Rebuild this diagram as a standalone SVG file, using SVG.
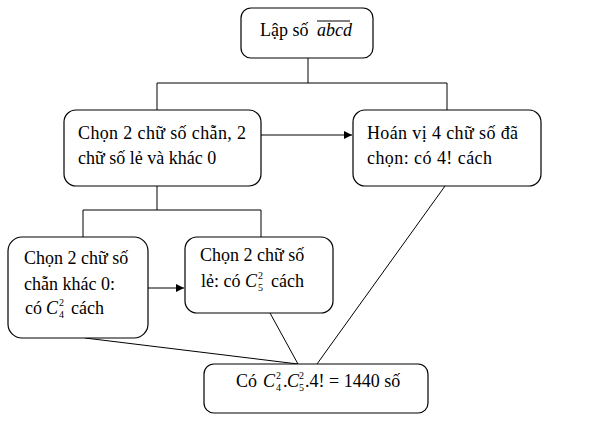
<svg xmlns="http://www.w3.org/2000/svg" width="594" height="433" viewBox="0 0 594 433">
<defs>
<marker id="arr" viewBox="0 0 10 10" refX="10" refY="5" markerWidth="8" markerHeight="8" markerUnits="userSpaceOnUse" orient="auto"><path d="M0,0 L10,5 L0,10 z" fill="#000"/></marker>
</defs>
<style>
.box{fill:#fff;stroke:#000;stroke-width:1.2}
.t{font-family:"Liberation Serif","Times New Roman",serif;font-size:18px;fill:#000}
.i{font-style:italic}
.s{font-size:10px}
.c{fill:none;stroke:#000;stroke-width:1}
</style>
<rect width="594" height="433" fill="#fff"/>
<g id="connectors">
<polyline class="c" points="308,58 308,83"/>
<polyline class="c" points="157,110 157,83 447,83 447,110"/>
<line class="c" x1="261" y1="135" x2="352" y2="135" marker-end="url(#arr)"/>
<polyline class="c" points="157,186 157,210"/>
<polyline class="c" points="83,237 83,210 261,210 261,237"/>
<line class="c" x1="148" y1="288" x2="184" y2="288" marker-end="url(#arr)"/>
<line class="c" x1="85" y1="338" x2="298" y2="364"/>
<line class="c" x1="270" y1="313" x2="298" y2="364"/>
<line class="c" x1="445" y1="186" x2="317" y2="364"/>
</g>
<g id="n1">
<rect class="box" x="241" y="8" width="132" height="50" rx="10"/>
<text class="t" x="260" y="36">Lập số <tspan class="i" x="317">abcd</tspan></text>
<line x1="317" y1="21" x2="350" y2="21" stroke="#000" stroke-width="1"/>
</g>
<g id="n2">
<rect class="box" x="64" y="110" width="197" height="76" rx="12"/>
<text class="t" x="78" y="139" textLength="168" lengthAdjust="spacing">Chọn 2 chữ số chẵn, 2</text>
<text class="t" x="78" y="164">chữ số lẻ và khác 0</text>
</g>
<g id="n3">
<rect class="box" x="353" y="110" width="188" height="76" rx="12"/>
<text class="t" x="367" y="139" textLength="151" lengthAdjust="spacing">Hoán vị 4 chữ số đã</text>
<text class="t" x="367" y="164" textLength="125" lengthAdjust="spacing">chọn:  có 4! cách</text>
</g>
<g id="n4">
<rect class="box" x="8" y="237" width="140" height="101" rx="14"/>
<text class="t" x="24" y="264">Chọn 2 chữ số</text>
<text class="t" x="24" y="290">chẵn khác 0:</text>
<text class="t" x="25" y="314">có</text>
<text class="t i" x="46" y="314">C</text>
<text class="t s" x="59" y="306">2</text>
<text class="t s" x="59" y="318">4</text>
<text class="t" x="71" y="314">cách</text>
</g>
<g id="n5">
<rect class="box" x="185" y="237" width="148" height="76" rx="12"/>
<text class="t" x="200" y="261">Chọn 2 chữ số</text>
<text class="t" x="201" y="287">lẻ: có</text>
<text class="t i" x="245" y="287">C</text>
<text class="t s" x="258" y="279">2</text>
<text class="t s" x="258" y="291">5</text>
<text class="t" x="271" y="287">cách</text>
</g>
<g id="n6">
<rect class="box" x="204" y="364" width="224" height="49" rx="10"/>
<text class="t" x="236" y="387">Có</text>
<text class="t i" x="263" y="387">C</text>
<text class="t s" x="276" y="379">2</text>
<text class="t s" x="276" y="391">4</text>
<text class="t" x="283" y="387">.</text>
<text class="t i" x="287" y="387">C</text>
<text class="t s" x="299" y="379">2</text>
<text class="t s" x="299" y="391">5</text>
<text class="t" x="305" y="387">.4! = 1440 số</text>
</g>
</svg>
